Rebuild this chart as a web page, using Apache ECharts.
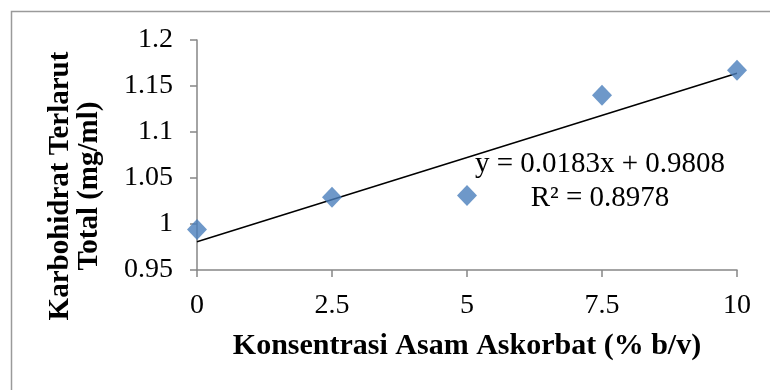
<!DOCTYPE html>
<html>
<head>
<meta charset="utf-8">
<script src="https://cdn.jsdelivr.net/npm/echarts@6/dist/echarts.min.js"></script>
<style>
html,body{margin:0;padding:0;background:#fff;}
#chart{width:770px;height:390px;}
</style>
</head>
<body>
<div id="chart"></div>
<script>
// ---- data ----
var xValues = [0, 2.5, 5, 7.5, 10];
var yValues = [0.994, 1.029, 1.031, 1.140, 1.167];
var trendSlope = 0.0183;
var trendIntercept = 0.9808;
var rSquared = 0.8978;
var xTicks = [0, 2.5, 5, 7.5, 10];
var yTicks = [0.95, 1, 1.05, 1.1, 1.15, 1.2];
var xTitle = 'Konsentrasi Asam Askorbat (% b/v)';
var yTitle = 'Karbohidrat Terlarut\nTotal (mg/ml)';

var FONT = "'Liberation Serif', 'Times New Roman', serif";
var points = xValues.map(function (x, i) { return [x, yValues[i]]; });
var xMin = xTicks[0], xMax = xTicks[xTicks.length - 1];
var trendData = [[xMin, trendIntercept + trendSlope * xMin], [xMax, trendIntercept + trendSlope * xMax]];

var chart = echarts.init(document.getElementById('chart'), null, {renderer: 'canvas'});
chart.setOption({
  animation: false,
  backgroundColor: '#ffffff',
  grid: {left: 197, right: 33, top: 40, bottom: 120, containLabel: false, outerBoundsMode: 'none'},
  xAxis: {
    type: 'value',
    min: xMin, max: xMax, interval: xTicks[1] - xTicks[0],
    axisLine: {show: true, lineStyle: {color: '#868686', width: 1.5}},
    axisTick: {show: true, inside: false, length: 7, lineStyle: {color: '#868686', width: 1.5}},
    splitLine: {show: false},
    axisLabel: {color: '#000', fontFamily: FONT, fontSize: 28, margin: 22,
      formatter: function (v) { return String(parseFloat(v.toFixed(2))); }},
    name: xTitle, nameLocation: 'middle', nameGap: 61,
    nameTextStyle: {color: '#000', fontFamily: FONT, fontSize: 30, fontWeight: 'bold'}
  },
  yAxis: {
    type: 'value',
    min: yTicks[0], max: yTicks[yTicks.length - 1], interval: 0.05,
    axisLine: {show: true, lineStyle: {color: '#868686', width: 1.5}},
    axisTick: {show: true, inside: false, length: 7, lineStyle: {color: '#868686', width: 1.5}},
    splitLine: {show: false},
    axisLabel: {color: '#000', fontFamily: FONT, fontSize: 28, margin: 24,
      formatter: function (v) { return String(parseFloat(v.toFixed(2))); }},
    name: yTitle, nameLocation: 'middle', nameGap: 93,
    nameTextStyle: {color: '#000', fontFamily: FONT, fontSize: 29, fontWeight: 'bold',
      lineHeight: 29, padding: [0, 62, 0, 0]}
  },
  series: [
    {
      type: 'line', data: trendData, symbol: 'none', silent: true,
      lineStyle: {color: '#000', width: 1.5}, z: 2
    },
    {
      type: 'scatter', data: points, symbol: 'diamond', symbolSize: [20, 21],
      itemStyle: {color: '#4A7EBB'}, z: 3
    }
  ],
  graphic: [
    {type: 'rect', shape: {x: 11.5, y: 11.5, width: 800, height: 400}, z: -1,
      style: {fill: null, stroke: '#9a9a9a', lineWidth: 1.5}, silent: true},
    {type: 'text', x: 600, y: 164, silent: true,
      style: {text: 'y = ' + trendSlope.toFixed(4) + 'x + ' + trendIntercept.toFixed(4),
        font: "29px 'Liberation Serif', 'Times New Roman', serif", fill: '#000',
        align: 'center', verticalAlign: 'middle'}},
    {type: 'text', x: 600, y: 198, silent: true,
      style: {text: 'R² = ' + rSquared.toFixed(4),
        font: "29px 'Liberation Serif', 'Times New Roman', serif", fill: '#000',
        align: 'center', verticalAlign: 'middle'}}
  ]
});
</script>
</body>
</html>
